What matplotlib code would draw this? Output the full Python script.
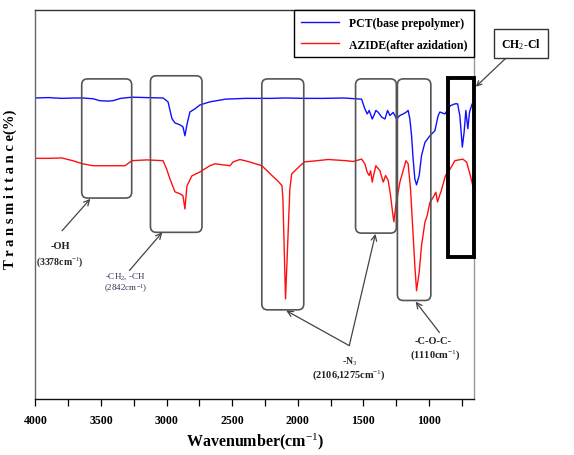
import numpy as np
import matplotlib
matplotlib.use('Agg')
import matplotlib.pyplot as plt
from matplotlib.patches import FancyBboxPatch, Rectangle

plt.rcParams['font.family'] = ['Liberation Serif', 'DejaVu Serif']
plt.rcParams['mathtext.fontset'] = 'custom'
plt.rcParams['mathtext.rm'] = 'Liberation Serif'
plt.rcParams['mathtext.it'] = 'Liberation Serif:italic'
plt.rcParams['mathtext.bf'] = 'Liberation Serif:bold'

# ---- spectra (wavenumber cm-1, transmittance a.u.) ----
pct_wn = [4000, 3900, 3800, 3700, 3640, 3560, 3508, 3450, 3409, 3350, 3264, 3150,
          3027, 2989, 2959, 2936, 2898, 2875, 2860, 2845, 2822, 2784, 2746, 2670,
          2550, 2400, 2200, 2100, 1950, 1800, 1650, 1513, 1488, 1470, 1455, 1432,
          1419, 1404, 1386, 1360, 1335, 1315, 1297, 1272, 1246, 1221, 1196, 1175,
          1158, 1145, 1132, 1120, 1107, 1094, 1074, 1056, 1030, 992, 954, 929,
          916, 878, 837, 801, 781, 764, 745, 731, 718, 703, 690, 670, 657]
pct_t = [77.3, 77.4, 77.2, 77.3, 77.3, 77.1, 76.6, 76.5, 76.6, 77.2, 77.5, 77.4,
         77.3, 76.3, 72.0, 70.9, 70.4, 69.9, 67.6, 70.4, 73.7, 74.5, 75.5, 76.3,
         77.0, 77.2, 77.2, 77.3, 77.2, 77.2, 77.3, 77.0, 74.5, 73.2, 74.1, 71.9,
         72.8, 74.1, 73.6, 72.4, 71.9, 74.1, 72.8, 73.6, 71.9, 72.8, 73.2, 73.6,
         74.1, 71.9, 67.6, 61.6, 56.5, 55.0, 57.4, 62.5, 65.9, 67.6, 68.9, 72.8,
         73.7, 73.2, 75.3, 75.8, 75.8, 72.8, 64.7, 68.6, 74.1, 69.4, 73.7, 75.8, 75.5]

azide_wn = [4000, 3900, 3800, 3715, 3640, 3560, 3508, 3400, 3317, 3264, 3150, 3027,
            3000, 2974, 2936, 2898, 2875, 2860, 2845, 2807, 2746, 2670, 2630, 2517,
            2492, 2441, 2380, 2273, 2197, 2152, 2120, 2113, 2093, 2060, 2046, 1991,
            1949, 1880, 1768, 1633, 1577, 1513, 1488, 1470, 1455, 1444, 1432, 1419,
            1404, 1373, 1348, 1330, 1310, 1292, 1277, 1267, 1252, 1239, 1221, 1200,
            1175, 1158, 1140, 1124, 1107, 1094, 1074, 1056, 1030, 1013, 992, 967,
            947, 934, 916, 908, 873, 837, 802, 741, 712, 684, 662]
azide_t = [61.8, 61.8, 61.9, 61.2, 60.4, 59.9, 59.9, 59.9, 59.9, 61.2, 61.4, 61.2,
           59.1, 56.5, 53.2, 52.7, 52.2, 48.8, 54.7, 57.3, 58.3, 59.9, 60.4, 59.9,
           60.9, 61.5, 61.0, 59.9, 57.4, 56.0, 54.8, 51.4, 25.7, 53.9, 57.8, 59.6,
           60.9, 61.1, 61.5, 61.2, 61.0, 61.6, 60.4, 58.2, 57.4, 58.6, 55.7, 57.8,
           59.9, 58.6, 55.7, 57.4, 56.1, 52.2, 48.0, 45.5, 49.7, 52.2, 55.7, 58.2,
           61.2, 60.4, 53.9, 44.5, 34.2, 27.8, 32.5, 39.4, 45.4, 47.1, 50.5, 51.8,
           53.1, 50.6, 52.5, 53.2, 57.4, 59.1, 61.2, 61.6, 60.8, 57.4, 54.4]

series_labels = ['PCT(base prepolymer)', 'AZIDE(after azidation)']
x_ticks = [4000, 3500, 3000, 2500, 2000, 1500, 1000]
x_minor = [3750, 3250, 2750, 2250, 1750, 1250, 750]

# band regions (wn_left, wn_right, t_bottom, t_top)
band_boxes = [(3647, 3266, 51.6, 82.2),
              (3123, 2730, 42.8, 83.0),
              (2274, 1954, 22.9, 82.2),
              (1559, 1248, 42.6, 82.2),
              (1240, 985, 25.3, 82.2)]
chcl_box = (851, 655, 36.4, 82.4)

fig = plt.figure(figsize=(5.74, 4.56), dpi=100)
ax = fig.add_axes([0.0617, 0.1228, 0.7643, 0.854])

ax.plot(pct_wn, pct_t, color='#1010ff', lw=1.0, label=series_labels[0])
ax.plot(azide_wn, azide_t, color='#ff1010', lw=1.0, label=series_labels[1])

ax.set_xlim(4000, 655)
ax.set_ylim(0, 100)

# rounded boxes around the bands; mutation_aspect keeps corners round on screen
aspect = (100 / 389.3) / (3345 / 438.6)
for x0, x1, y0, y1 in band_boxes:
    p = FancyBboxPatch((x1, y0), x0 - x1, y1 - y0,
                       boxstyle='round,pad=0,rounding_size=45',
                       mutation_aspect=aspect, fc='none', ec='#555555', lw=1.2, zorder=3)
    ax.add_patch(p)
x0, x1, y0, y1 = chcl_box
ax.add_patch(Rectangle((x1, y0), x0 - x1, y1 - y0, fc='none', ec='black', lw=2.8,
                       zorder=4, clip_on=False))

arrow = dict(arrowstyle='->', color='#444444', lw=0.9, shrinkA=0, shrinkB=0)
tfont = dict(ha='center', va='center', fontweight='bold', color='#222222')

# -OH
ax.annotate('', xy=(3581, 51.4), xytext=(3797, 43.2), arrowprops=arrow)
ax.text(3811, 39.4, '-OH', fontsize=7.5, **tfont)
ax.text(3811, 35.5, '(3378cm$^{-1}$)', fontsize=7, **tfont)

# -CH2, -CH
ax.annotate('', xy=(3033, 42.8), xytext=(3283, 33.0), arrowprops=arrow)
ax.text(3311, 31.7, '-CH$_2$, -CH', fontsize=6.5, ha='center', va='center', color='#333355')
ax.text(3311, 28.6, '(2842cm$^{-1}$)', fontsize=6.5, ha='center', va='center', color='#333355')

# -N3
ax.annotate('', xy=(2088, 22.7), xytext=(1607, 13.7), arrowprops=arrow)
ax.annotate('', xy=(1407, 42.4), xytext=(1607, 13.7), arrowprops=arrow)
ax.text(1607, 9.8, '-N$_3$', fontsize=7, **tfont)
ax.text(1607, 6.4, '(2106,1275cm$^{-1}$)', fontsize=7.5, **tfont)

# -C-O-C-
ax.annotate('', xy=(1101, 25.0), xytext=(920, 17.1), arrowprops=arrow)
ax.text(970, 15.0, '-C-O-C-', fontsize=7.5, **tfont)
ax.text(948, 11.6, '(1110cm$^{-1}$)', fontsize=7.5, **tfont)

# CH2-Cl label outside the frame
ax.annotate('CH$_2$-Cl', xy=(642, 80.2), xytext=(295, 91.3), fontsize=8.5,
            fontweight='bold', ha='center', va='center', annotation_clip=False,
            bbox=dict(boxstyle='square,pad=0.6', fc='white', ec='#333333', lw=1),
            arrowprops=dict(arrowstyle='->', color='#444444', lw=0.9, shrinkA=0, shrinkB=0))

leg = ax.legend(loc='upper right', borderaxespad=0, fancybox=False, framealpha=1,
                edgecolor='black', handlelength=3.2, labelspacing=0.8,
                borderpad=0.6, prop=dict(weight='bold', size=8.5))
leg.get_frame().set_linewidth(1.0)

ax.set_xticks(x_ticks)
ax.set_xticks(x_minor, minor=True)
ax.set_yticks([])
ax.tick_params(axis='x', which='both', direction='out', length=5, width=0.9, pad=6)
for lab in ax.get_xticklabels():
    lab.set_fontweight('bold')
    lab.set_fontsize(8.5)
ax.set_xlabel('Wavenumber(cm$^{-1}$)', fontsize=11.5, fontweight='bold', labelpad=3)
ax.set_ylabel('T r a n s m i t t a n c e(%)', fontsize=10.5, fontweight='bold')
ax.yaxis.set_label_coords(-0.042, 0.54)

ax.spines['left'].set_color('#666666')
ax.spines['right'].set_color('#999999')
ax.spines['top'].set_color('#333333')
ax.spines['bottom'].set_color('#111111')
for s in ax.spines.values():
    s.set_linewidth(1.0)

fig.savefig('out.png', dpi=100)
